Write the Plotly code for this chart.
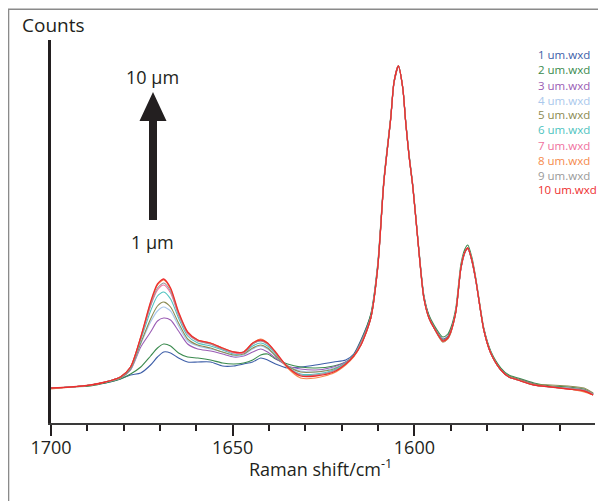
import plotly.graph_objects as go

# ---------------- data ----------------
wavenumber = [1700.0, 1694.6, 1689.1, 1685.0, 1680.9, 1678.1, 1675.3, 1672.6, 1670.7, 1669.0,
              1667.1, 1664.9, 1662.4, 1659.6, 1656.1, 1652.8, 1649.7, 1647.0, 1644.5, 1642.3,
              1640.4, 1638.2, 1634.9, 1631.3, 1627.2, 1622.2, 1618.9, 1616.7, 1614.7, 1612.0,
              1610.1, 1608.4, 1606.5, 1605.6, 1604.4, 1603.2, 1602.4, 1601.5, 1600.4, 1599.0,
              1597.4, 1596.0, 1594.6, 1592.2, 1590.8, 1590.0, 1588.6, 1587.2, 1586.1, 1585.3,
              1584.2, 1583.1, 1581.7, 1580.9, 1579.0, 1576.2, 1574.0, 1571.5, 1567.1, 1562.4,
              1557.7, 1553.3, 1550.8]

um1 = [36, 37, 39, 41, 45, 49, 51, 59, 67, 72, 71, 66, 62, 62, 62, 58, 58, 60, 62, 66,
       64, 60, 56, 57, 59, 62, 64, 70, 84,
       109, 158, 243, 306, 341, 357, 336, 303, 270, 237, 183, 128, 108, 97, 85, 88, 94, 113,
       155, 171, 176, 163, 143, 111, 95, 72, 55, 48, 45, 40, 37, 36, 33, 30]
um2 = [36, 37, 38, 41, 45, 50, 57, 68, 76, 80, 78, 71, 67, 66, 64, 61, 60, 61, 64, 69,
       70, 65, 60, 57, 56, 58, 62, 69, 83,
       110, 160, 245, 308, 343, 358, 337, 303, 271, 238, 184, 129, 109, 99, 87, 90, 96, 116,
       160, 175, 179, 167, 146, 113, 96, 73, 56, 49, 46, 41, 38, 37, 35, 30]
um3 = [36, 37, 39, 42, 46, 54, 77, 92, 103, 106, 104, 93, 80, 75, 73, 70, 67, 68, 72, 75,
       72, 66, 58, 55, 54, 57, 62, 68, 82,
       107, 157, 242, 306, 342, 358, 336, 302, 269, 236, 182, 127, 107, 97, 84, 87, 93, 113,
       156, 172, 176, 164, 144, 111, 94, 71, 54, 47, 45, 40, 37, 36, 34, 30]
um4 = [36, 37, 39, 42, 46, 55, 80, 102, 113, 117, 113, 98, 83, 78, 75, 72, 68, 69, 75, 78,
       75, 68, 58, 53, 52, 56, 61, 68, 81,
       106, 156, 242, 306, 342, 358, 336, 302, 269, 236, 182, 126, 106, 96, 83, 86, 92, 112,
       156, 172, 176, 164, 144, 111, 94, 71, 54, 47, 44, 39, 37, 36, 33, 30]
um5 = [36, 37, 39, 42, 46, 55, 81, 105, 118, 122, 117, 101, 85, 79, 76, 72, 69, 70, 76, 79,
       76, 68, 58, 52, 52, 55, 61, 68, 81,
       106, 156, 242, 306, 342, 358, 336, 302, 269, 236, 182, 127, 107, 97, 84, 87, 93, 112,
       156, 172, 176, 164, 144, 111, 94, 71, 54, 48, 45, 40, 39, 38, 36, 31]
um6 = [36, 37, 39, 42, 47, 56, 84, 113, 128, 132, 125, 106, 88, 81, 78, 74, 70, 71, 78, 81,
       78, 70, 57, 50, 50, 54, 61, 68, 80,
       106, 156, 242, 306, 342, 358, 336, 302, 269, 236, 182, 126, 106, 96, 82, 85, 91, 112,
       156, 172, 175, 164, 144, 111, 94, 71, 54, 47, 44, 39, 37, 35, 33, 29]
um7 = [36, 37, 39, 42, 47, 57, 86, 118, 134, 139, 131, 109, 90, 83, 80, 75, 71, 71, 80, 83,
       80, 71, 57, 49, 49, 53, 60, 68, 80,
       106, 156, 242, 306, 342, 358, 336, 302, 269, 236, 182, 126, 106, 96, 83, 86, 92, 112,
       156, 172, 175, 164, 144, 111, 94, 71, 54, 47, 44, 39, 37, 35, 33, 29]
um8 = [35, 37, 39, 42, 47, 57, 87, 121, 139, 144, 135, 111, 92, 84, 81, 76, 72, 72, 81, 85,
       81, 71, 56, 46, 46, 51, 59, 67, 79,
       106, 156, 242, 306, 342, 358, 336, 302, 269, 236, 182, 126, 106, 96, 82, 85, 91, 112,
       156, 172, 176, 164, 144, 111, 94, 71, 54, 47, 44, 39, 37, 35, 32, 29]
um9 = [36, 37, 39, 42, 47, 57, 86, 119, 136, 141, 133, 110, 91, 83, 80, 75, 72, 72, 80, 83,
       80, 71, 57, 49, 49, 53, 60, 68, 79,
       106, 156, 242, 306, 342, 358, 336, 302, 269, 236, 182, 126, 106, 96, 83, 86, 92, 112,
       156, 172, 176, 164, 144, 111, 94, 71, 54, 47, 44, 39, 37, 36, 34, 30]
um10 = [36, 37, 39, 42, 47, 57, 87, 122, 140, 145, 136, 112, 92, 84, 81, 76, 72, 72, 81, 84,
        81, 72, 57, 48, 48, 52, 60, 68, 79,
        106, 156, 242, 306, 342, 358, 336, 302, 269, 236, 182, 126, 106, 96, 83, 86, 92, 112,
        156, 172, 176, 164, 144, 111, 94, 71, 54, 47, 44, 39, 37, 35, 33, 29]

series_names = ["1 um.wxd", "2 um.wxd", "3 um.wxd", "4 um.wxd", "5 um.wxd",
                "6 um.wxd", "7 um.wxd", "8 um.wxd", "9 um.wxd", "10 um.wxd"]
series_values = [um1, um2, um3, um4, um5, um6, um7, um8, um9, um10]
series_colors = ["#3d5ea8", "#3a8a4e", "#9a5cb4", "#aac8ec", "#8b8a52",
                 "#4fc3c0", "#f0719e", "#f58a4c", "#9a9a9a", "#ee2e2e"]

x_ticks = [1700, 1650, 1600]

# ---------------- layout geometry ----------------
# the page adds an 8 px body margin, so the figure is 8 px smaller and
# every measured page position is shifted by OFF
OFF = 8
W, H = 598, 493
L, R, T, B = 43, 11, 32, 78
PW, PH = W - L - R, H - T - B
INK = "#231f20"
FONT = "Open Sans, Noto Sans, DejaVu Sans, sans-serif"


def xp(px):
    return (px - OFF - L) / PW


def yp(py):
    return (T + PH - (py - OFF)) / PH


fig = go.Figure()
for name, vals, col in zip(series_names, series_values, series_colors):
    fig.add_trace(go.Scatter(
        x=wavenumber, y=vals, mode="lines", name=name, showlegend=False,
        line=dict(color=col, width=1.3 if name.startswith("10") else 1.1,
                  shape="spline", smoothing=0.7),
        hoverinfo="skip"))

shapes = []
# outer frame (top and left edges of the figure box)
shapes.append(dict(type="path", xref="paper", yref="paper",
                   path=f"M {xp(8.6)} {yp(520)} L {xp(8.6)} {yp(9.2)} L {xp(620)} {yp(9.2)}",
                   line=dict(color="#8a8a8a", width=1.4)))
# big arrow
pts = [(149, 220), (157, 220), (157, 121), (166.5, 121), (153, 92), (139.5, 121), (149, 121)]
path = "M " + " L ".join(f"{xp(a)} {yp(b)}" for a, b in pts) + " Z"
shapes.append(dict(type="path", xref="paper", yref="paper", path=path,
                   fillcolor=INK, line=dict(color=INK, width=0)))

annotations = [
    dict(text="Counts", x=xp(20), y=yp(25), xanchor="left", yanchor="middle",
         font=dict(size=19, color=INK, family=FONT)),
    dict(text="10 µm", x=xp(152), y=yp(77), xanchor="center", yanchor="middle",
         font=dict(size=18, color=INK, family=FONT)),
    dict(text="1 µm", x=xp(152.5), y=yp(242), xanchor="center", yanchor="middle",
         font=dict(size=18, color=INK, family=FONT)),
    dict(text="Raman shift/cm<sup>-1</sup>", x=xp(320), y=yp(468), xanchor="center",
         yanchor="middle", font=dict(size=18, color=INK, family=FONT)),
]
for i, (name, col) in enumerate(zip(series_names, series_colors)):
    annotations.append(dict(text=name, x=xp(536), y=yp(55 + 15 * i), xanchor="left",
                            yanchor="middle", font=dict(size=11.5, color=col, family=FONT)))
for a in annotations:
    a.update(xref="paper", yref="paper", showarrow=False)

fig.update_layout(
    width=W, height=H, margin=dict(l=L, r=R, t=T, b=B, pad=0),
    paper_bgcolor="white", plot_bgcolor="white",
    font=dict(family=FONT, color=INK),
    shapes=shapes, annotations=annotations,
    xaxis=dict(range=[1700, 1550.3], showgrid=False, zeroline=False,
               showline=True, linecolor="#3a3a3a", linewidth=1.5,
               ticks="outside", ticklen=11, tickwidth=2, tickcolor=INK,
               tickvals=x_ticks, ticktext=[str(v) for v in x_ticks],
               tickfont=dict(size=18, color=INK, family=FONT),
               ticklabelstandoff=-3,
               minor=dict(ticks="outside", ticklen=6, tickwidth=1.5, tickcolor=INK,
                          dtick=10, tick0=1700, showgrid=False)),
    yaxis=dict(range=[1, 384], showgrid=False, zeroline=False, showticklabels=False,
               ticks="", showline=True, linecolor=INK, linewidth=2.5),
)

fig.write_html("out.html")
